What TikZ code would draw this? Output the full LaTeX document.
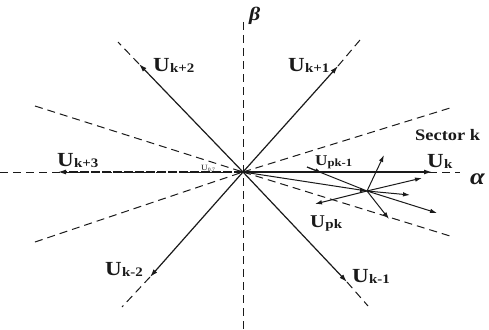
\documentclass[tikz,border=0pt]{standalone}
\usepackage{fontspec}
\setmainfont[FakeStretch=1.15]{Liberation Serif}
\usetikzlibrary{arrows.meta,calc}
\definecolor{ink}{HTML}{1A1A1A}
\tikzset{
  >={Latex[length=8pt,width=5pt]},
  axis/.style={draw=ink,line width=1pt,dash pattern=on 8pt off 5pt},
  vec/.style={->,draw=ink,line width=1.2pt},
  small/.style={->,draw=ink,line width=1pt,>={Latex[length=7pt,width=4.5pt]}},
  vlabel/.style={font=\fontsize{20}{20}\selectfont\bfseries,text=ink,inner sep=0pt,anchor=base west},
}
\newcommand{\vname}[1]{U\kern0.3pt\raisebox{-1.5pt}{\fontsize{13}{13}\selectfont #1}}

\begin{document}
\begin{tikzpicture}[x=1pt,y=-1pt]
\useasboundingbox (0,0) rectangle (489,329);
\clip (0,0) rectangle (489,329);

% origin and vector tips
\coordinate (O) at (243,172);
\coordinate (P) at (367,191);
\coordinate (pk1) at (307,167);

% axes
\draw[axis] (243,22) -- (243,329);
\draw[axis] (0,172) -- (460,172);

% sector borders
\draw[axis] (35,106) -- (O);
\draw[axis] (O) -- (450,108);
\draw[axis] (35,242) -- (O);
\draw[axis] (O) -- (450,236);

% extensions beyond the vectors
\draw[axis] (338,66) -- (360,40);
\draw[axis] (139,64) -- (118,42);
\draw[axis] (150,277) -- (122,307);
\draw[axis] (347,282) -- (368,306);

% voltage vectors
\draw[vec] (O) -- (432,172);
\draw[vec] (O) -- (338,66);
\draw[vec] (O) -- (139,64);
\draw[vec,dash pattern=on 9pt off 2pt] (O) -- (58,172);
\draw[vec] (O) -- (150,277);
\draw[vec] (O) -- (347,282);

% predicted vectors in sector k
\draw[small] (O) -- (P);
\draw[draw=ink,line width=1pt] (pk1) -- (P);
\draw[small] (pk1) -- ($(pk1)!0.25!(P)$);
\draw[small] (P) -- (384,155);
\draw[small] (P) -- (422,178);
\draw[small] (P) -- (410,195);
\draw[small] (P) -- (437,213);
\draw[small] (P) -- (389,219);
\draw[small] (P) -- (315,204);

% labels
\node[vlabel] (lk2) at (153,71) {\vname{k+2}};
\node[vlabel] (lk1) at (288,71) {\vname{k+1}};
\node[vlabel] (lk3) at (57,166) {\vname{k+3}};
\node[vlabel] (lkm2) at (105,275) {\vname{k-2}};
\node[vlabel] (lkm1) at (352,282) {\vname{k-1}};
\node[vlabel] (lk) at (427,167) {\vname{k}};
\node[vlabel,font=\fontsize{18}{18}\selectfont\bfseries] (lpk) at (310,227) {\vname{pk}};
\node[vlabel,font=\fontsize{15}{15}\selectfont\bfseries] (lpk1) at (315,165) {U\raisebox{-1pt}{\fontsize{11}{11}\selectfont pk-1}};
\node[vlabel,font=\fontsize{16}{16}\selectfont\bfseries] (sector) at (415,140) {Sector k};
\node[vlabel,font=\fontsize{8}{8}\selectfont] (lzero) at (201,170) {U\raisebox{-1pt}{\fontsize{5}{5}\selectfont 0,7}};
\node[vlabel,font=\fontsize{19}{19}\selectfont\bfseries\itshape] (beta) at (249,21) {β};
\node[vlabel,font=\fontsize{23}{23}\selectfont\bfseries\itshape] (alpha) at (470,184) {α};
\end{tikzpicture}
\end{document}
